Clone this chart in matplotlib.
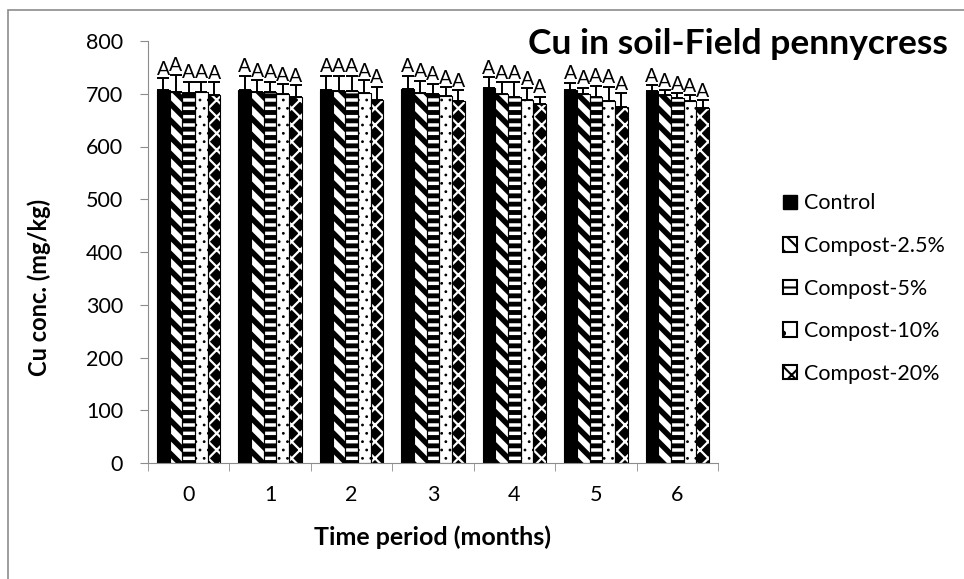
import numpy as np
import matplotlib
matplotlib.use("Agg")
import matplotlib.pyplot as plt
from matplotlib.patches import Rectangle

plt.rcParams['font.family'] = ['Lato', 'DejaVu Sans']

# data
months = ["0", "1", "2", "3", "4", "5", "6"]
treatments = ["Control", "Compost-2.5%", "Compost-5%", "Compost-10%", "Compost-20%"]
control = [707, 708, 707, 709, 711, 708, 705]
compost_2_5 = [704, 704, 705, 701, 699, 700, 697]
compost_5 = [701, 703, 705, 700, 693, 694, 692]
compost_10 = [703, 700, 701, 695, 688, 686, 686]
compost_20 = [698, 694, 689, 686, 680, 675, 673]
err_control = [22, 26, 27, 25, 20, 13, 11]
err_2_5 = [32, 22, 29, 24, 23, 11, 10]
err_5 = [22, 20, 29, 19, 29, 21, 9]
err_10 = [20, 18, 25, 17, 22, 27, 11]
err_20 = [24, 22, 24, 21, 14, 26, 15]
letters = ["A", "A", "A", "A", "A"]

values = [control, compost_2_5, compost_5, compost_10, compost_20]
errors = [err_control, err_2_5, err_5, err_10, err_20]

fig = plt.figure(figsize=(9.64, 5.79), dpi=100)
# grey chart border (left and top visible)
fig.patches.append(Rectangle((8/964, -0.1), 1.2, (1 - 10/579) + 0.1, transform=fig.transFigure,
                             fill=False, edgecolor="#8c8c8c", linewidth=1.2))

ax = fig.add_axes([148/964, 1 - 463/579, 570/964, 422/579])

x = np.arange(len(months))
w = 0.156
offsets = (np.arange(5) - 2) * w

# face, hatch, hatch colour, hatch width
styles = [
    ("black", None, "black", 1.0),
    ("white", "\\\\", "black", 4.0),
    ("white", "--", "black", 3.5),
    ("white", "..", "black", 0.8),
    ("black", "xx", "white", 1.6),
]

for i in range(5):
    face, hatch, hcol, hlw = styles[i]
    plt.rcParams['hatch.linewidth'] = hlw
    if hatch is None:
        ax.bar(x + offsets[i], values[i], w, color="black", edgecolor="black", linewidth=0.8, zorder=2)
    else:
        b = ax.bar(x + offsets[i], values[i], w, color=face, edgecolor=hcol,
                   hatch=hatch, linewidth=0, zorder=2)
        for p in b:
            try:
                p.set_hatch_linewidth(hlw)
            except AttributeError:
                pass
        ax.bar(x + offsets[i], values[i], w, fill=False, edgecolor="black", linewidth=0.8, zorder=3)
    ax.errorbar(x + offsets[i], values[i], yerr=[np.zeros(7), errors[i]], fmt="none",
                ecolor="black", elinewidth=1.4, capsize=4.5, capthick=1.4, zorder=4)
    for j in range(7):
        ax.text(x[j] + offsets[i], values[i][j] + errors[i][j] + 1, letters[i],
                ha="center", va="bottom", fontsize=14, zorder=5)

ax.set_xlim(-0.5, 6.5)
ax.set_ylim(0, 800)
ax.set_yticks(range(0, 801, 100))
ax.set_xticks(x)
ax.set_xticklabels(months)
ax.set_xticks(np.arange(-0.5, 7, 1), minor=True)
ax.tick_params(axis="x", which="major", length=0, pad=16, labelsize=15.5)
ax.tick_params(axis="x", which="minor", length=6, color="#8c8c8c", direction="out")
ax.tick_params(axis="y", length=6, color="#8c8c8c", direction="out", labelsize=15.5, pad=12)
for s in ["top", "right"]:
    ax.spines[s].set_visible(False)
ax.spines["left"].set_color("#8c8c8c")
ax.spines["bottom"].set_color("#8c8c8c")

ax.set_xlabel("Time period (months)", fontsize=18, fontweight="bold", va="center")
ax.xaxis.set_label_coords(0.5, -0.175)
ax.set_ylabel("Cu conc. (mg/kg)", fontsize=17, fontweight="bold", va="center")
ax.yaxis.set_label_coords(-0.19, 0.415)

fig.text(948/964, 1 - 44/579, "Cu in soil-Field pennycress", ha="right", va="center",
         fontsize=25.5, fontweight="bold")

# legend swatches
handles = []
for face, hatch, hcol, hlw in styles:
    if hatch is None:
        handles.append(Rectangle((0, 0), 1, 1, facecolor="black", edgecolor="black"))
    elif hcol == "white":
        handles.append(Rectangle((0, 0), 1, 1, facecolor="white", edgecolor="black", hatch="xx", linewidth=1.5))
    elif hatch == "..":
        handles.append(Rectangle((0, 0), 1, 1, facecolor="white", edgecolor="black", hatch=".", linewidth=1.5))
    else:
        handles.append(Rectangle((0, 0), 1, 1, facecolor="white", edgecolor="black", hatch=hatch, linewidth=1.5))
plt.rcParams['hatch.linewidth'] = 1.5

fig.legend(handles, treatments, loc="upper left", bbox_to_anchor=(764/964, 1 - 174/579),
           frameon=False, fontsize=15.5, handlelength=0.65, handleheight=0.65,
           handletextpad=0.3, labelspacing=1.05)

fig.savefig("out.png", dpi=100)
